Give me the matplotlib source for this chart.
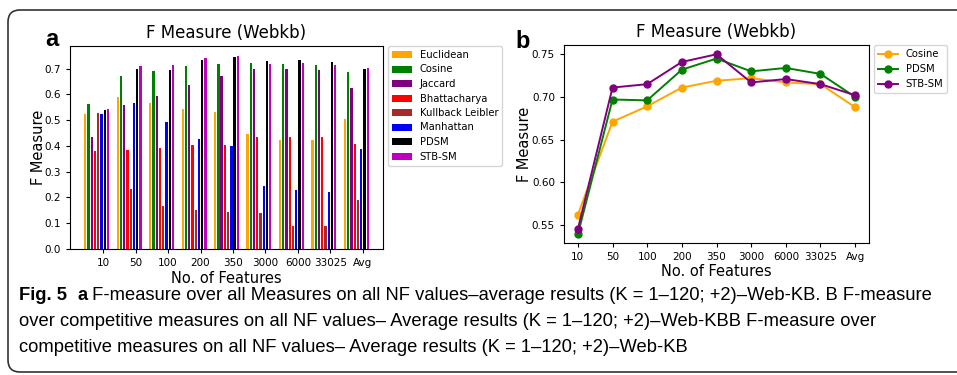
import matplotlib
matplotlib.use("Agg")
import matplotlib.pyplot as plt
import numpy as np
from matplotlib.patches import FancyBboxPatch
from matplotlib.transforms import IdentityTransform

# Données (F Measure, Webkb)
features = ["10", "50", "100", "200", "350", "3000", "6000", "33025", "Avg"]

euclidean = [0.523, 0.590, 0.565, 0.545, 0.530, 0.446, 0.422, 0.422, 0.506]
cosine = [0.562, 0.671, 0.689, 0.711, 0.719, 0.722, 0.717, 0.715, 0.688]
jaccard = [0.433, 0.558, 0.593, 0.636, 0.671, 0.700, 0.700, 0.696, 0.623]
bhattacharya = [0.381, 0.384, 0.390, 0.403, 0.402, 0.434, 0.435, 0.435, 0.407]
kullback = [0.526, 0.231, 0.167, 0.151, 0.145, 0.141, 0.089, 0.089, 0.190]
manhattan = [0.523, 0.567, 0.491, 0.426, 0.400, 0.245, 0.229, 0.220, 0.389]
pdsm = [0.539, 0.697, 0.696, 0.732, 0.745, 0.730, 0.734, 0.727, 0.700]
stbsm = [0.545, 0.711, 0.715, 0.741, 0.750, 0.717, 0.721, 0.715, 0.702]

mesures = ["Euclidean", "Cosine", "Jaccard", "Bhattacharya", "Kullback Leibler",
           "Manhattan", "PDSM", "STB-SM"]
couleurs = ["orange", "green", "purple", "red", "brown", "blue", "black", "m"]

W, H = 957, 375


def tracer_barres(ax):
    series = [euclidean, cosine, jaccard, bhattacharya, kullback, manhattan, pdsm, stbsm]
    x = np.arange(len(features))
    for i, (vals, nom, c) in enumerate(zip(series, mesures, couleurs)):
        ax.bar(x + i * 0.1, vals, width=0.07, color=c, label=nom)
    ax.set_xticks(x + 0.55)
    ax.set_xticklabels(features)
    ax.tick_params(labelsize=7.5, length=3)
    ax.set_title("F Measure (Webkb)", fontsize=12)
    ax.set_xlabel("No. of Features", fontsize=10.5, labelpad=2)
    ax.set_ylabel("F Measure", fontsize=10.5, labelpad=-1)
    ax.legend(loc="upper left", bbox_to_anchor=(1.015, 1.0), fontsize=7.2,
              borderaxespad=0, labelspacing=0.45)


def tracer_lignes(ax):
    x = np.arange(len(features))
    ax.plot(x, cosine, "-o", color="orange", lw=1.4, ms=5, label="Cosine")
    ax.plot(x, pdsm, "-o", color="green", lw=1.4, ms=5, label="PDSM")
    ax.plot(x, stbsm, "-o", color="purple", lw=1.4, ms=5, label="STB-SM")
    ax.set_xticks(x)
    ax.set_xticklabels(features)
    ax.tick_params(labelsize=7.5, length=3)
    ax.set_title("F Measure (Webkb)", fontsize=12)
    ax.set_xlabel("No. of Features", fontsize=10.5, labelpad=1)
    ax.set_ylabel("F Measure", fontsize=10.5, labelpad=0)
    ax.legend(loc="upper left", bbox_to_anchor=(1.015, 1.0), fontsize=7.2,
              borderaxespad=0)


def legende_figure(fig):
    # Légende en plusieurs morceaux (gras / normal) posés les uns après les autres
    lignes = [
        [("Fig. 5", "bold"), ("  ", "normal"), ("a", "bold"),
         (" F-measure over all Measures on all NF values\u2013average results (K = 1\u2013120; +2)\u2013Web-KB. B F-measure", "normal")],
        [("over competitive measures on all NF values\u2013 Average results (K = 1\u2013120; +2)\u2013Web-KBB F-measure over", "normal")],
        [("competitive measures on all NF values\u2013 Average results (K = 1\u2013120; +2)\u2013Web-KB", "normal")],
    ]
    ys = [296, 322, 348]
    renderer = fig.canvas.get_renderer()
    for morceaux, y in zip(lignes, ys):
        xpos = 19
        for txt, poids in morceaux:
            t = fig.text(xpos / W, 1 - y / H, txt, fontsize=13.2, fontweight=poids,
                         family="Liberation Sans", va="center", ha="left")
            xpos += t.get_window_extent(renderer).width


if __name__ == "__main__":
    fig = plt.figure(figsize=(W / 100, H / 100), dpi=100)

    # Cadre arrondi autour de la figure
    cadre = FancyBboxPatch((8, 3), 1000, 362, boxstyle="round,pad=0,rounding_size=12",
                           transform=IdentityTransform(), fill=False, edgecolor="#333333", lw=1.2)
    fig.patches.append(cadre)

    ax_a = fig.add_axes([70 / W, 1 - 249 / H, 313 / W, 203 / H])
    tracer_barres(ax_a)
    ax_b = fig.add_axes([564 / W, 1 - 243.3 / H, 305 / W, 198 / H])
    tracer_lignes(ax_b)

    fig.text(52 / W, 1 - 40 / H, "a", fontsize=17, fontweight="bold",
             family="Liberation Sans", ha="center", va="center")
    fig.text(523 / W, 1 - 42 / H, "b", fontsize=17, fontweight="bold",
             family="Liberation Sans", ha="center", va="center")

    legende_figure(fig)

    fig.savefig("out.png", dpi=100)
    plt.close(fig)
